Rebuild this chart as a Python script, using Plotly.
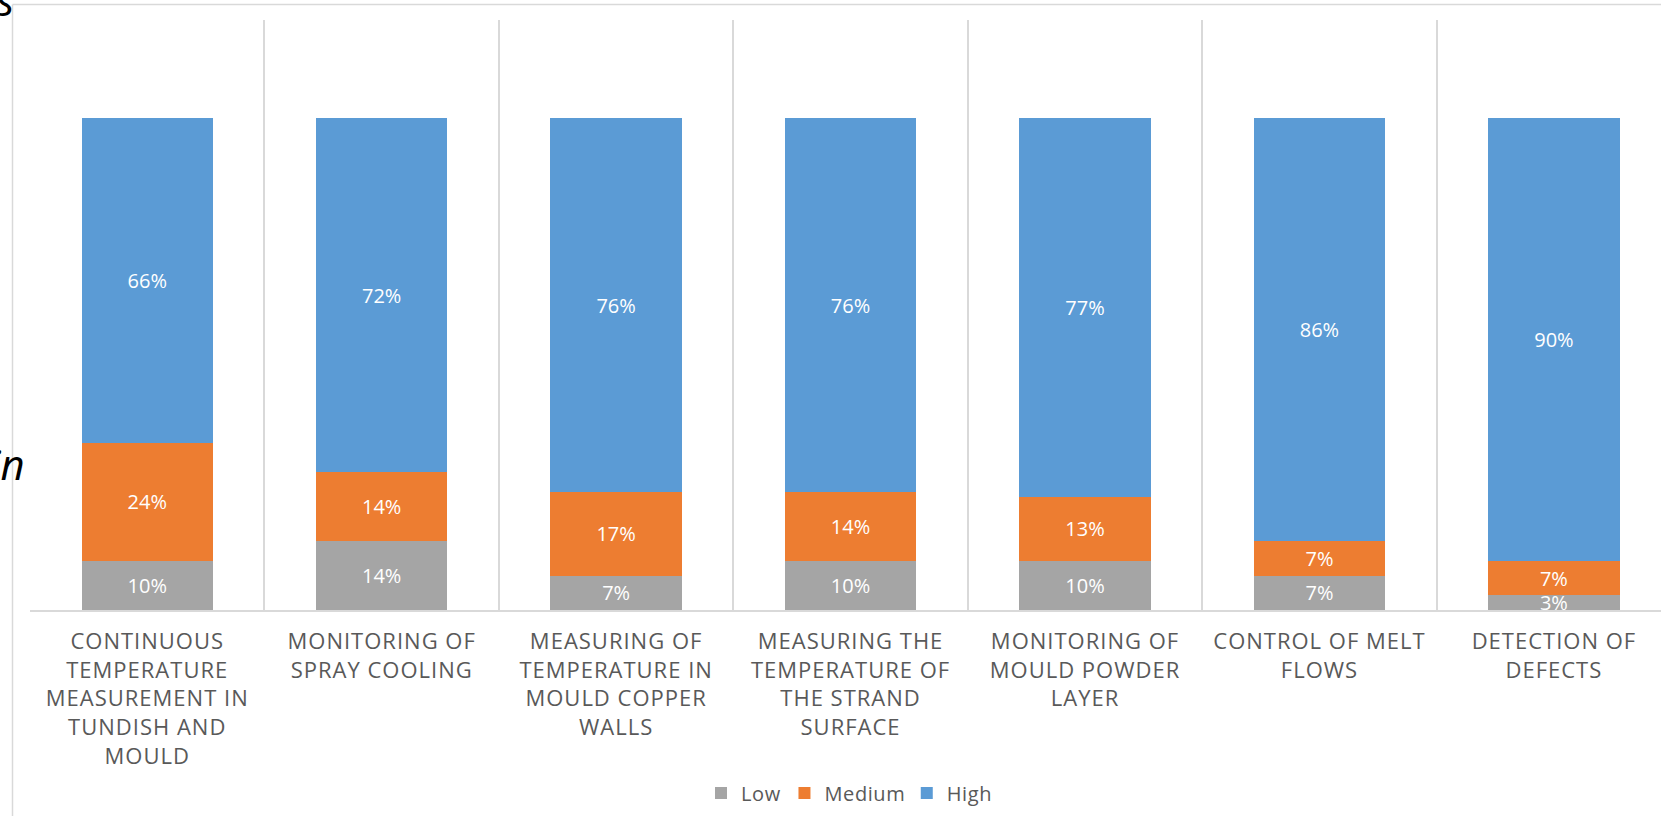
import plotly.graph_objects as go

# Survey categories (line breaks as shown under the axis)
categories = [
    "CONTINUOUS<br>TEMPERATURE<br>MEASUREMENT IN<br>TUNDISH AND<br>MOULD",
    "MONITORING OF<br>SPRAY COOLING",
    "MEASURING OF<br>TEMPERATURE IN<br>MOULD COPPER<br>WALLS",
    "MEASURING THE<br>TEMPERATURE OF<br>THE STRAND<br>SURFACE",
    "MONITORING OF<br>MOULD POWDER<br>LAYER",
    "CONTROL OF MELT<br>FLOWS",
    "DETECTION OF<br>DEFECTS",
]

# Share of answers per importance level (fractions)
low = [0.10, 0.14, 0.07, 0.10, 0.10, 0.07, 0.03]
medium = [0.24, 0.14, 0.17, 0.14, 0.13, 0.07, 0.07]
high = [0.66, 0.72, 0.76, 0.76, 0.77, 0.86, 0.90]

series_names = ["Low", "Medium", "High"]
series_colors = ["#A5A5A5", "#ED7D31", "#5B9BD5"]

W, H = 1661, 816
M_L, M_R, M_T, M_B = 30, 0, 20, 206
PLOT_W = W - M_L - M_R
PLOT_H = H - M_T - M_B
Y_MAX = 1.2
N = len(categories)
# last category is partly cut off on the right edge
X_RIGHT = N - 0.5 - 10 / (PLOT_W / (N - 0.5 + 0.5 + 0.043))


def px_x(px):
    return (px - M_L) / PLOT_W


def px_y(py):
    return (H - M_B - py) / PLOT_H


xs = list(range(N))
fig = go.Figure()
for name, vals, col in zip(series_names, [low, medium, high], series_colors):
    fig.add_trace(go.Bar(
        x=xs, y=vals, name=name,
        marker=dict(color=col, line=dict(width=0)),
        width=0.56,
        text=[f"{round(v * 100)}%" for v in vals],
        textposition="inside",
        insidetextanchor="middle",
        constraintext="none",
        textfont=dict(family="Open Sans", size=20, color="#FFFFFF"),
        hoverinfo="skip",
    ))

grid_col = "#D9D9D9"
fig.update_layout(
    width=W, height=H,
    barmode="stack",
    bargap=0.44,
    margin=dict(l=M_L, r=M_R, t=M_T, b=M_B, autoexpand=False),
    paper_bgcolor="#FFFFFF",
    plot_bgcolor="#FFFFFF",
    showlegend=True,
    legend=dict(
        orientation="h",
        x=px_x(848), xanchor="center",
        y=px_y(793), yanchor="middle",
        font=dict(family="Open Sans", size=20, color="#595959"),
        traceorder="normal",
    ),
    xaxis=dict(
        range=[-0.5, X_RIGHT],
        tickmode="array",
        tickvals=xs,
        ticktext=categories,
        showgrid=False,
        zeroline=False,
        showline=True,
        linecolor=grid_col,
        linewidth=1.5,
        ticks="",
        ticklabelstandoff=11,
        tickfont=dict(family="Open Sans", size=22, color="#595959"),
        minor=dict(
            tickmode="array",
            tickvals=[i - 0.5 for i in range(N + 1)],
            showgrid=True,
            gridcolor=grid_col,
            gridwidth=1.5,
            ticks="",
        ),
        fixedrange=True,
    ),
    yaxis=dict(
        range=[0, Y_MAX],
        showgrid=False,
        zeroline=False,
        showline=False,
        showticklabels=False,
        ticks="",
        fixedrange=True,
    ),
)

# outer chart frame (top and left edges)
frame_x = px_x(12.5)
frame_y = px_y(4.5)
fig.add_shape(type="line", xref="paper", yref="paper",
              x0=frame_x, x1=px_x(W + 5), y0=frame_y, y1=frame_y,
              line=dict(color=grid_col, width=1.5), layer="below")
fig.add_shape(type="line", xref="paper", yref="paper",
              x0=frame_x, x1=frame_x, y0=frame_y, y1=px_y(H + 5),
              line=dict(color=grid_col, width=1.5), layer="below")

# fragments of surrounding page text at the left edge
for txt, xr, yb in [("s", 16, 30), ("in", 27, 494)]:
    fig.add_annotation(
        text=txt, xref="paper", yref="paper",
        x=px_x(xr), y=px_y(yb), xanchor="right", yanchor="bottom",
        showarrow=False,
        font=dict(family="Open Sans", size=42, color="#000000", style="italic"),
    )

css = ".xtick text{letter-spacing:1.0px}.legendtext{letter-spacing:0.6px}"
fig.write_html(
    "out.html",
    config={"displayModeBar": False},
    post_script=(
        "var s=document.createElement('style');"
        f"s.textContent='{css}';"
        "document.head.appendChild(s);"
    ),
)
